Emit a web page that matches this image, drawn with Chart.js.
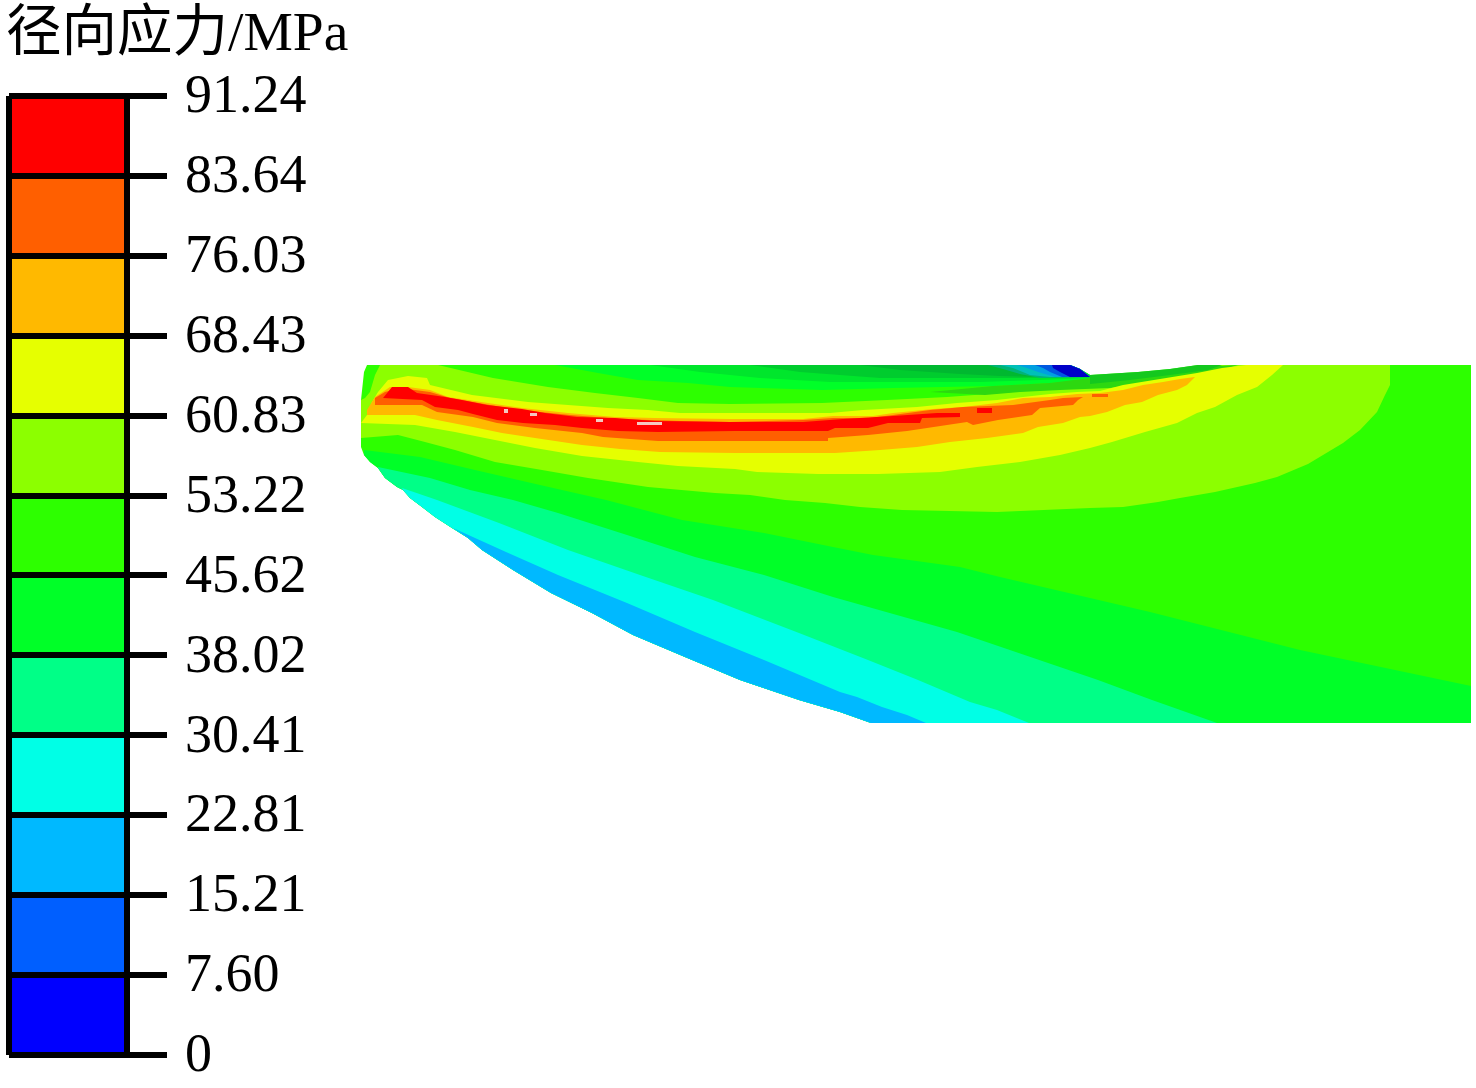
<!DOCTYPE html>
<html lang="en">

<head>
    <meta charset="UTF-8">
    <title>径向应力</title>
    <style>
        html, body { margin: 0; padding: 0; background: #fff; }
        canvas { position: absolute; }
        #barChart { left: 0; top: 0; }
        #mapChart { left: 360px; top: 360px; }
    </style>
</head>

<body>
    <canvas id="barChart" width="360" height="1088"></canvas>
    <canvas id="mapChart" width="1116" height="370"></canvas>

    <script src="https://cdn.jsdelivr.net/npm/chart.js"></script>

    <script>
        const titleText = '径向应力/MPa';
        const levels = [0, 7.6, 15.21, 22.81, 30.41, 38.02, 45.62, 53.22, 60.83, 68.43, 76.03, 83.64, 91.24];
        const tickLabels = ['0', '7.60', '15.21', '22.81', '30.41', '38.02', '45.62', '53.22', '60.83', '68.43', '76.03', '83.64', '91.24'];
        const bandColors = ['#0000ff', '#005fff', '#00b9ff', '#00ffe6', '#00ff87', '#00ff28', '#2dff00', '#8cff00', '#e6ff00', '#ffb900', '#ff5f00', '#ff0000'];

        // contour lines, as [x, y] along the section
        const outerTop = [[361, 447], [361, 400], [364, 372], [367, 365], [1070, 365], [1080, 369], [1090, 375], [1138, 372], [1170, 369], [1198, 365], [1471, 365], [1471, 723]];
        const outerEdge = [[871, 723], [840, 712], [799, 700], [740, 680], [685, 657], [633, 635], [592, 613], [551, 593], [513, 570], [482, 550], [468, 538], [452, 528], [435, 517], [422, 507], [410, 498], [403, 490], [397, 487], [385, 478], [378, 468], [370, 462], [364, 455]];

        const line38 = [[364, 450], [420, 457], [475, 470], [540, 485], [606, 500], [682, 520], [764, 533], [833, 547], [873, 555], [960, 567], [1000, 577], [1150, 612], [1300, 650], [1471, 686]];
        const line30 = [[378, 467], [430, 478], [470, 490], [513, 500], [558, 513], [627, 535], [695, 557], [764, 575], [833, 597], [957, 632], [1098, 680], [1152, 700], [1217, 723]];
        const line22 = [[402, 488], [437, 500], [499, 523], [568, 550], [640, 575], [713, 600], [799, 633], [868, 660], [918, 680], [970, 702], [997, 710], [1029, 723]];
        const line15 = [[453, 528], [506, 552], [558, 575], [627, 603], [695, 632], [764, 660], [840, 692], [857, 697], [882, 707], [907, 715], [926, 723]];

        const limeTop = [[361, 400], [365, 398], [370, 392], [375, 375], [380, 365], [438, 365], [493, 378], [548, 387], [595, 393], [638, 398], [678, 403], [730, 404], [822, 403], [887, 400], [947, 397], [988, 394], [1025, 391], [1057, 387], [1087, 386], [1110, 385], [1150, 378], [1190, 370], [1222, 365], [1390, 365]];
        const limeBottom = [[1390, 385], [1385, 395], [1377, 412], [1360, 430], [1343, 443], [1328, 452], [1308, 464], [1277, 477], [1255, 483], [1215, 492], [1180, 498], [1158, 502], [1123, 507], [1090, 508], [997, 512], [902, 510], [860, 507], [825, 503], [785, 500], [750, 495], [715, 493], [648, 487], [588, 478], [542, 470], [495, 462], [455, 450], [425, 442], [398, 435], [361, 438]];

        const yellowTop = [[361, 423], [367, 415], [372, 402], [378, 392], [388, 380], [408, 376], [427, 378], [430, 385], [472, 395], [528, 402], [568, 405], [608, 408], [648, 410], [680, 413], [730, 413], [830, 413], [863, 410], [917, 407], [957, 403], [997, 400], [1023, 397], [1050, 394], [1077, 392], [1100, 391], [1123, 385], [1160, 379], [1197, 373], [1222, 368], [1246, 365], [1283, 365]];
        const yellowBottom = [[1272, 375], [1257, 387], [1237, 395], [1215, 407], [1197, 413], [1177, 423], [1145, 432], [1112, 442], [1090, 448], [1060, 455], [1020, 462], [977, 467], [940, 472], [878, 474], [818, 474], [757, 472], [735, 469], [678, 466], [638, 462], [582, 456], [535, 448], [495, 440], [455, 432], [415, 425]];

        const orangeTop = [[367, 415], [367, 410], [375, 397], [390, 387], [408, 387], [430, 390], [448, 397], [488, 403], [522, 408], [568, 413], [615, 417], [655, 418], [730, 419], [803, 419], [833, 416], [873, 416], [893, 413], [933, 409], [963, 407], [997, 403], [1023, 398], [1050, 397], [1077, 394], [1100, 393], [1123, 390], [1143, 385], [1163, 382], [1180, 379], [1195, 377]];
        const orangeBottom = [[1187, 385], [1177, 390], [1158, 395], [1142, 402], [1125, 405], [1107, 412], [1090, 416], [1080, 417], [1063, 423], [1038, 427], [1023, 433], [987, 438], [950, 442], [917, 447], [880, 450], [835, 453], [735, 453], [660, 452], [620, 449], [582, 445], [535, 438], [502, 433], [473, 427], [437, 420], [415, 415]];

        const deepTop = [[375, 405], [375, 398], [385, 392], [400, 388], [430, 392], [450, 398], [490, 405], [520, 410], [570, 415], [620, 419], [680, 421], [730, 422], [803, 420], [833, 418], [870, 418], [893, 415], [930, 410], [963, 407], [1013, 405], [1050, 400], [1063, 398], [1083, 397]];
        const deepBottom = [[1078, 400], [1073, 405], [1040, 408], [1032, 415], [998, 420], [973, 425], [967, 422], [907, 431], [868, 435], [828, 438], [828, 441], [735, 441], [658, 441], [603, 437], [582, 433], [535, 428], [497, 423], [473, 417], [437, 412], [422, 405]];
        const deepStreak = [[1092, 394], [1108, 394], [1108, 397], [1092, 397]];

        const redTop = [[383, 398], [392, 387], [408, 387], [417, 393], [445, 397], [462, 400], [487, 405], [522, 409], [545, 413], [577, 417], [615, 418], [655, 421], [730, 422], [803, 422], [843, 419], [893, 416], [937, 413], [960, 413]];
        const redBottom = [[960, 417], [922, 418], [920, 423], [888, 423], [868, 428], [835, 428], [828, 431], [735, 431], [658, 432], [618, 431], [582, 428], [555, 425], [523, 423], [497, 420], [473, 414], [458, 410], [435, 407], [422, 400]];
        const redBlob = [[977, 408], [992, 408], [992, 413], [977, 413]];

        // darker greens along the top edge and the low stress spot
        const topGreen1 = [[555, 365], [598, 373], [638, 380], [688, 383], [730, 387], [822, 390], [893, 388], [993, 386], [1050, 383], [1090, 380], [1090, 375], [1080, 369], [1070, 365]];
        const topGreen2 = [[650, 365], [700, 372], [760, 378], [830, 382], [900, 382], [980, 382], [1040, 380], [1090, 378], [1090, 375], [1080, 369], [1070, 365]];
        const topGreen3 = [[750, 365], [800, 372], [880, 378], [960, 378], [1020, 378], [1090, 377], [1080, 369], [1070, 365]];
        const topGreen4 = [[860, 365], [900, 370], [960, 374], [1000, 376], [1040, 377], [1090, 377], [1080, 369], [1070, 365]];
        const tailGreen1 = [[930, 392], [993, 386], [1050, 383], [1090, 378], [1138, 376], [1170, 372], [1198, 367], [1238, 365], [1222, 370], [1190, 376], [1150, 383], [1110, 388], [1060, 390], [1020, 392], [985, 395]];
        const tailGreen2 = [[1090, 375], [1138, 372], [1170, 369], [1198, 365], [1222, 365], [1208, 370], [1170, 375], [1130, 380], [1090, 384]];
        const spot1 = [[988, 365], [1070, 365], [1080, 369], [1090, 377], [1040, 378], [1020, 374], [1003, 369]];
        const spot2 = [[1000, 365], [1070, 365], [1080, 369], [1090, 377], [1050, 377], [1030, 375], [1013, 368]];
        const spot3 = [[1017, 365], [1070, 365], [1080, 369], [1090, 377], [1055, 377], [1038, 372], [1027, 368]];
        const spot4 = [[1035, 365], [1070, 365], [1080, 369], [1090, 377], [1062, 377], [1050, 372], [1043, 368]];
        const spot5 = [[1052, 365], [1070, 365], [1080, 369], [1090, 377], [1070, 377], [1060, 372], [1053, 368]];

        const specks = [
            [[504, 409], [508, 409], [508, 413], [504, 413]],
            [[530, 413], [537, 413], [537, 416], [530, 416]],
            [[596, 419], [603, 419], [603, 422], [596, 422]],
            [[637, 422], [662, 422], [662, 425], [637, 425]]
        ];

        // a band under a contour line runs down to the lower outline
        function below(line) {
            const start = line[0];
            const end = line[line.length - 1];
            const corner = end[1] < 723 ? [[end[0], 723]] : [];
            return [...line, ...corner, ...outerEdge.filter(p => p[1] > start[1])];
        }

        const color = i => bandColors[i];
        const layers = [
            [[...outerTop, ...outerEdge], color(6)],
            [below(line38), color(5)],
            [below(line30), color(4)],
            [below(line22), color(3)],
            [below(line15), color(2)],
            [[...limeTop, ...limeBottom], color(7)],
            [topGreen1, color(5)],
            [topGreen2, '#00e62c'],
            [topGreen3, '#00cc2e'],
            [topGreen4, '#00b830'],
            [tailGreen1, '#2dd810'],
            [tailGreen2, '#14c81e'],
            [[...yellowTop, ...yellowBottom], color(8)],
            [[...orangeTop, ...orangeBottom], color(9)],
            [[...deepTop, ...deepBottom], color(10)],
            [deepStreak, color(10)],
            [[...redTop, ...redBottom], color(11)],
            [redBlob, color(11)],
            [spot1, '#00b478'],
            [spot2, '#00c0b8'],
            [spot3, '#009fe0'],
            [spot4, '#0058e0'],
            [spot5, '#0000c8'],
            ...specks.map(s => [s, '#f4c8c0'])
        ];

        new Chart(document.getElementById('mapChart'), {
            type: 'scatter',
            data: {
                datasets: layers.map(([points, fillColor], i) => ({
                    data: points,
                    showLine: true,
                    fill: 'shape',
                    backgroundColor: fillColor,
                    borderColor: fillColor,
                    borderWidth: 0,
                    pointRadius: 0,
                    tension: 0,
                    order: layers.length - i
                }))
            },
            options: {
                responsive: false,
                animation: false,
                events: [],
                layout: { padding: 0 },
                plugins: { legend: { display: false }, tooltip: { enabled: false } },
                scales: {
                    x: { type: 'linear', min: 360, max: 1476, display: false },
                    y: { type: 'linear', min: 360, max: 730, reverse: true, display: false }
                }
            }
        });

        new Chart(document.getElementById('barChart'), {
            type: 'bar',
            data: {
                labels: [''],
                datasets: bandColors.map((c, i) => ({
                    data: [[levels[i], levels[i + 1]]],
                    yAxisID: 'y',
                    backgroundColor: c,
                    borderWidth: 0,
                    barPercentage: 1,
                    categoryPercentage: 1,
                    grouped: false
                }))
            },
            options: {
                responsive: false,
                animation: false,
                events: [],
                layout: { padding: { left: 6 } },
                plugins: {
                    legend: { display: false },
                    tooltip: { enabled: false },
                    title: {
                        display: true,
                        text: titleText,
                        align: 'start',
                        color: '#000',
                        padding: { top: 5, bottom: 31 },
                        font: { family: "'Liberation Serif', 'Noto Sans CJK SC'", size: 55.5, weight: 'normal', lineHeight: 1.08 }
                    }
                },
                scales: {
                    x: {
                        grid: { offset: true, color: '#000', lineWidth: 6, z: 1, drawTicks: false },
                        border: { display: false },
                        ticks: { display: false }
                    },
                    // empty axis, only keeps the title a little left of the bar
                    spacer: {
                        position: 'left',
                        grid: { display: false },
                        border: { display: false },
                        ticks: { display: false },
                        afterFit: scale => { scale.width = 3; }
                    },
                    y: {
                        position: 'right',
                        min: 0,
                        max: 91.24,
                        afterBuildTicks: scale => { scale.ticks = levels.map(v => ({ value: v })); },
                        afterFit: scale => {
                            scale.width = 233;
                            scale.paddingBottom = 33;
                        },
                        border: { display: false },
                        grid: { color: '#000', lineWidth: 6, z: 1, tickLength: 40 },
                        ticks: {
                            autoSkip: false,
                            color: '#000',
                            padding: 18,
                            maxRotation: 0,
                            labelOffset: 2,
                            font: { family: "'Liberation Serif'", size: 54 },
                            callback: (value, i) => tickLabels[i]
                        }
                    }
                }
            }
        });

    </script>
</body>

</html>
